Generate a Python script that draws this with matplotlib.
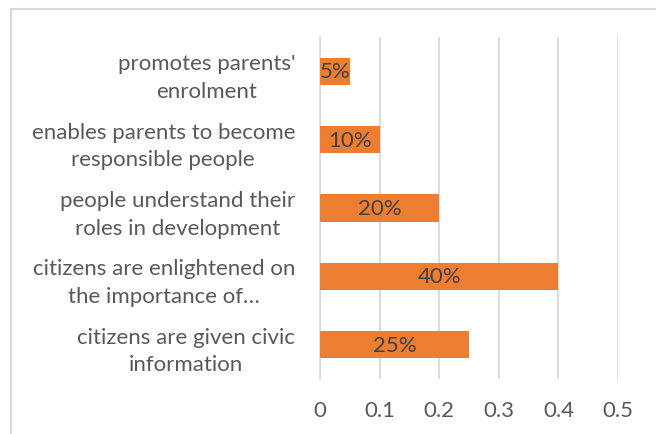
import matplotlib
matplotlib.use("Agg")
import matplotlib.pyplot as plt
from matplotlib.patches import Rectangle

categories = [
    "citizens are given civic\ninformation",
    "citizens are enlightened on\nthe importance of…",
    "people understand their\nroles in development",
    "enables parents to become\nresponsible people",
    "promotes parents'\nenrolment",
]
values = [0.25, 0.40, 0.20, 0.10, 0.05]
labels = ["25%", "40%", "20%", "10%", "5%"]
xticks = [0, 0.1, 0.2, 0.3, 0.4, 0.5]
xticklabels = ["0", "0.1", "0.2", "0.3", "0.4", "0.5"]

W, H = 656, 435
fig = plt.figure(figsize=(W / 100, H / 100), dpi=100)
fig.patch.set_facecolor("white")

font = "Lato"
fs = 16
ax = fig.add_axes([320 / W, 1 - 380 / H, (618 - 320) / W, (380 - 38) / H])
y = list(range(len(categories)))
bars = ax.barh(y, values, height=0.4, color="#ED7D31", zorder=3)
for b, lab in zip(bars, labels):
    ax.text(b.get_width() / 2, b.get_y() + b.get_height() / 2, lab,
            ha="center", va="center", fontsize=fs, color="#404040",
            family=font, zorder=4)

ax.set_xlim(0, 0.5)
ax.set_ylim(-0.5, len(categories) - 0.5)
ax.set_xticks(xticks)
ax.set_xticklabels(xticklabels, family=font, fontsize=fs, color="#595959")
ax.set_yticks(y)
ax.set_yticklabels(categories, family=font, fontsize=fs, color="#595959",
                   multialignment="center", linespacing=1.48)
ax.tick_params(axis="both", length=0)
ax.tick_params(axis="y", pad=18)
ax.tick_params(axis="x", pad=15)
ax.grid(axis="x", color="#D9D9D9", linewidth=1.3, zorder=0)
for s in ["top", "right", "bottom"]:
    ax.spines[s].set_visible(False)
ax.spines["left"].set_color("#D9D9D9")
ax.spines["left"].set_linewidth(1.3)

border = Rectangle((10.5 / W, -0.5), 2.0, 0.5 + (1 - 9.5 / H),
                   transform=fig.transFigure, fill=False,
                   edgecolor="#D9D9D9", linewidth=1.5, clip_on=False)
fig.patches.append(border)

fig.savefig("out.png", dpi=100)
